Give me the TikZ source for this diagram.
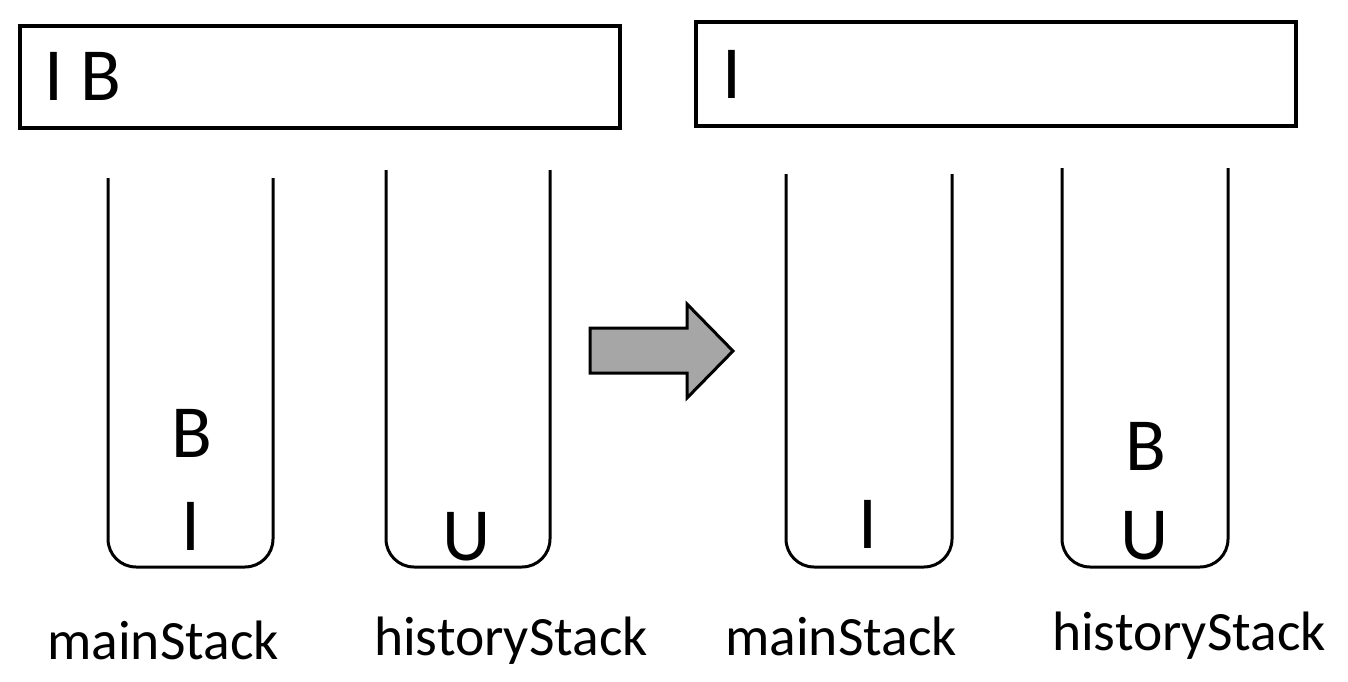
\documentclass[tikz,border=0pt]{standalone}
\usepackage{fontspec}
\setmainfont{Carlito}
\usetikzlibrary{positioning}
\definecolor{arrowgray}{RGB}{166,166,166}

\tikzset{
    strbox/.style={draw, line width=4pt, minimum width=600pt, inner sep=0pt},
    elem/.style={anchor=base, inner sep=0pt, font=\fontsize{75}{80}\selectfont},
    stackname/.style={anchor=base, inner sep=0pt, font=\fontsize{55.5}{60}\selectfont}
}

\begin{document}
\begin{tikzpicture}[x=1pt, y=-1pt]
    \useasboundingbox (0,0) rectangle (1348,682);

    % 字符串框
    \node[strbox, minimum height=102pt] (S1) at (320,76.7) {};
    \node[strbox, minimum height=104pt] (S2) at (996,74) {};
    \node[elem, anchor=base west] (T1) at (44,101) {I B};
    \node[elem, anchor=base west] (T2) at (722,99) {I};

    % 栈
    \foreach \l/\r/\t in {108/273/178, 386/550/170, 786/952/174, 1062/1228/168} {
        \draw[line width=3pt, rounded corners=28pt] (\l,\t) -- (\l,567) -- (\r,567) -- (\r,\t);
    }

    % 栈内元素
    \foreach \x/\y/\c [count=\i] in {192/457/B, 190.5/550/I, 466.5/560/U, 867.5/548/I, 1145.5/470/B, 1144.5/559/U} {
        \node[elem] (E\i) at (\x,\y) {\c};
    }

    % 箭头
    \draw[line width=3pt, fill=arrowgray] (590,328) -- (687,328) -- (687,304) -- (733,351)
        -- (687,398) -- (687,373) -- (590,373) -- cycle;

    % 标签
    \foreach \x/\y/\t [count=\i] in {163/659/mainStack, 511/655/historyStack, 841/655/mainStack, 1189/650/historyStack} {
        \node[stackname] (N\i) at (\x,\y) {\t};
    }
\end{tikzpicture}
\end{document}
